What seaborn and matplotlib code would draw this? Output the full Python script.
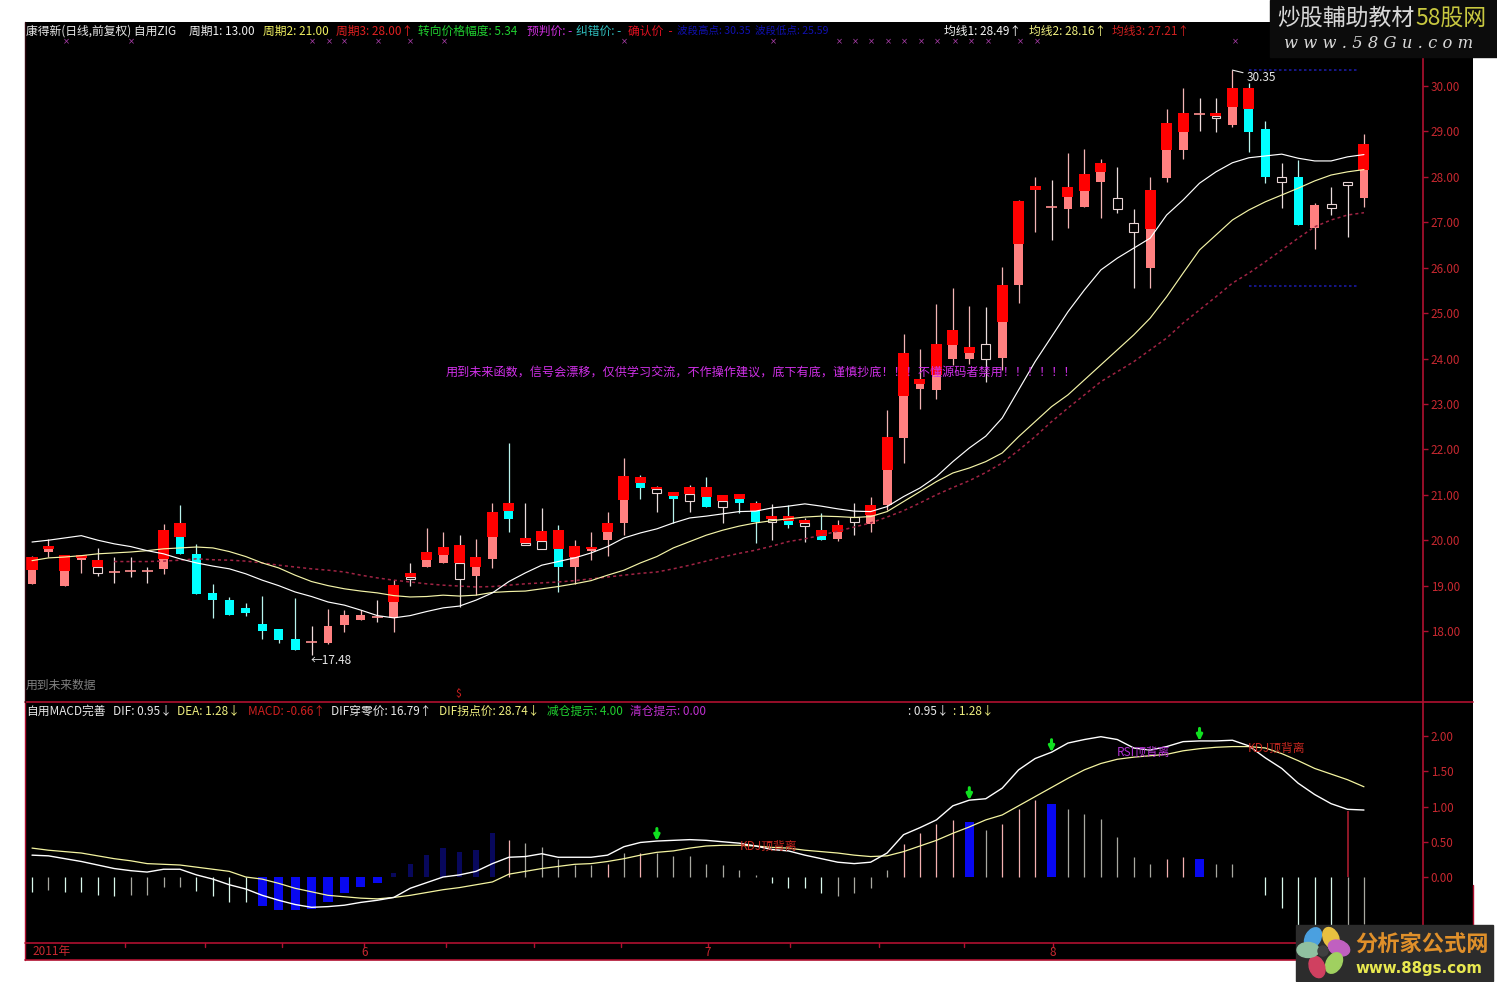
import numpy as np
import pandas as pd
import seaborn as sns
import matplotlib
matplotlib.use("Agg")
import matplotlib.pyplot as plt
from matplotlib.patches import Ellipse, Rectangle, Circle
from matplotlib.lines import Line2D

# ---------- data ----------
body_top = [19.64,19.87,19.67,19.67,19.56,19.30,19.32,19.33,20.22,20.38,
            19.70,18.83,18.68,18.51,18.15,18.04,17.82,17.76,18.11,18.35,
            18.35,18.31,19.01,19.27,19.74,19.85,19.89,19.63,20.62,20.81,
            20.04,20.20,20.22,19.87,19.85,20.38,21.42,21.40,21.18,21.06,
            21.18,21.18,21.00,21.02,20.82,20.53,20.53,20.44,20.22,20.33,
            20.52,20.77,22.28,24.13,23.55,24.32,24.63,24.26,24.32,25.62,
            27.47,27.80,27.34,27.78,28.06,28.31,27.53,26.99,27.71,29.19,
            29.41,29.39,29.40,29.95,29.95,29.05,28.00,28.00,27.38,27.40,
            27.89,28.72]
body_mid = [19.34,19.81,19.33,19.61,19.40,19.30,19.32,19.33,19.59,20.07,
            19.70,18.83,18.68,18.51,18.15,18.04,17.82,17.76,18.11,18.35,
            18.35,18.31,18.65,19.19,19.56,19.67,19.50,19.41,20.07,20.64,
            19.94,19.98,19.81,19.63,19.81,20.18,20.88,21.27,21.13,20.97,
            21.02,20.96,20.87,20.91,20.64,20.47,20.43,20.38,20.10,20.17,
            20.52,20.55,21.55,23.18,23.44,23.64,24.30,24.13,24.32,24.81,
            26.52,27.72,27.34,27.56,27.69,28.11,27.53,26.99,26.85,28.58,
            28.99,29.39,29.34,29.54,29.49,29.05,28.00,28.00,27.38,27.40,
            27.89,28.15]
body_bot = [19.04,19.75,19.00,19.56,19.27,19.30,19.32,19.33,19.37,19.70,
            18.82,18.68,18.35,18.40,18.00,17.80,17.58,17.76,17.74,18.13,
            18.24,18.31,18.29,19.15,19.41,19.50,19.15,19.21,19.59,20.46,
            19.89,19.81,19.41,19.41,19.76,20.00,20.38,21.16,21.05,20.91,
            20.87,20.73,20.73,20.82,20.41,20.41,20.33,20.32,20.00,20.03,
            20.39,20.36,20.77,22.24,23.33,23.31,23.99,23.98,23.99,24.02,
            25.62,27.72,27.34,27.29,27.34,27.89,27.29,26.79,26.00,27.98,
            28.59,29.39,29.29,29.14,28.99,28.00,27.89,26.94,26.88,27.32,
            27.83,27.54]
high = [19.65,20.03,19.67,19.67,19.83,19.63,19.63,19.40,20.36,20.77,
        19.92,19.04,18.75,18.62,18.77,18.04,18.73,18.11,18.48,18.46,
        18.46,18.68,19.12,19.50,20.27,20.18,20.11,20.03,20.82,22.14,
        20.82,20.71,20.33,20.00,20.18,20.62,21.81,21.44,21.19,21.06,
        21.21,21.39,21.00,21.02,20.86,20.80,20.77,20.49,20.60,20.44,
        20.82,20.95,22.87,24.54,24.21,25.20,25.55,25.16,25.13,26.01,
        27.49,28.00,27.93,28.53,28.61,28.39,28.22,27.29,28.00,29.49,
        29.96,29.74,29.73,30.35,30.07,29.24,28.31,28.37,27.42,27.78,
        27.89,28.94]
low = [19.04,19.63,19.00,19.28,19.21,19.06,19.19,19.06,19.26,19.70,
       18.82,18.29,18.35,18.33,17.82,17.74,17.58,17.48,17.71,17.98,
       18.24,18.20,17.98,18.99,19.41,19.50,18.53,18.79,19.39,20.18,
       19.89,19.81,18.86,19.04,19.56,19.65,20.11,20.91,20.62,20.38,
       20.62,20.73,20.38,20.60,19.94,20.00,20.27,19.96,20.00,19.98,
       20.11,20.18,20.66,21.70,22.89,23.11,23.86,23.88,23.48,23.75,
       25.22,26.79,26.61,26.87,27.34,27.09,27.20,25.56,25.56,27.89,
       28.39,29.02,28.99,29.10,28.55,27.87,27.31,26.94,26.41,27.16,
       26.68,27.34]
# lower part of each candle: p pink, c cyan, h hollow, d doji
candle_kind = list("ppp" "ph" "ddd" "p" "c"
                   "ccccccc" "d" "pp"
                   "p" "d" "p" "h" "pp" "h" "ppc"
                   "hh" "c" "ppp" "p" "c" "h" "c"
                   "h" "c" "h" "c" "c" "h" "c" "h" "c" "p"
                   "h" "ppppppp" "h" "p"
                   "p" "p" "d" "ppp" "hh" "pp"
                   "p" "d" "h" "p" "cc" "h" "c" "p" "h"
                   "h" "p")
ma1 = [19.96,20.00,20.05,20.10,20.00,19.92,19.86,19.77,19.70,19.59,
       19.50,19.43,19.37,19.26,19.12,19.00,18.86,18.76,18.64,18.57,
       18.46,18.34,18.29,18.34,18.43,18.51,18.55,18.68,18.84,
       19.09,19.28,19.45,19.53,19.61,19.72,19.86,20.05,20.16,20.25,20.38,
       20.49,20.53,20.58,20.63,20.64,20.71,20.75,20.80,20.75,20.69,20.64,20.63,20.74,
       20.96,21.15,21.40,21.73,22.03,22.29,22.69,23.31,23.93,24.48,25.03,25.51,25.95,
       26.21,26.43,26.65,27.16,27.49,27.86,28.11,28.31,28.42,28.46,28.50,28.41,28.35,
       28.35,28.44,28.49]
ma2 = [19.55,19.61,19.63,19.66,19.70,19.72,19.74,19.77,19.81,19.83,
       19.85,19.83,19.75,19.64,19.50,19.39,19.23,19.09,19.00,18.93,
       18.88,18.84,18.78,18.75,18.76,18.79,18.77,18.79,18.85,
       18.87,18.88,18.93,18.98,19.04,19.11,19.23,19.34,19.50,19.64,19.83,
       19.97,20.11,20.22,20.31,20.38,20.43,20.47,20.51,20.53,20.52,20.50,20.52,20.63,
       20.85,21.07,21.29,21.48,21.59,21.73,21.92,22.28,22.61,22.94,23.20,23.53,23.86,
       24.19,24.52,24.89,25.36,25.88,26.39,26.72,27.05,27.27,27.45,27.60,27.75,27.91,
       28.04,28.11,28.16]
ma3 = [np.nan]*5 + [19.53,19.53,19.53,19.54,19.56,19.59,19.57,19.56,19.54,19.50,
       19.45,19.41,19.37,19.34,19.30,19.23,19.17,19.12,19.08,19.04,19.01,18.99,18.97,18.98,19.01,
       19.04,19.06,19.08,19.11,19.15,19.19,19.23,19.27,19.30,19.37,19.45,19.54,19.63,19.71,19.78,
       19.87,19.97,20.03,20.11,20.20,20.29,20.38,20.51,20.65,20.82,21.00,21.16,21.31,21.49,21.70,
       21.98,22.28,22.61,22.91,23.20,23.49,23.71,23.93,24.19,24.45,24.78,25.07,25.36,25.66,25.88,
       26.13,26.39,26.65,26.90,27.05,27.16,27.21]
macd = [-.21,-.18,-.21,-.21,-.25,-.27,-.25,-.25,-.14,-.14,
        -.20,-.27,-.35,-.36,-.41,-.47,-.47,-.45,-.35,-.23,
        -.14,-.09,.05,.19,.31,.41,.36,.38,.62,.52,
        .48,.43,.26,.17,.17,.19,.34,.34,.34,.30,
        .30,.19,.17,.10,.03,-.09,-.16,-.16,-.23,-.27,
        -.23,-.16,.10,.47,.62,.75,.81,.78,.67,.75,
        .97,1.09,1.03,.97,.90,.82,.57,.29,.18,.26,
        .29,.26,.18,.18,0,-.26,-.44,-.68,-.68,-.68,
        -.70,-.66]
dif = [.31,.30,.26,.22,.17,.12,.09,.07,.11,.11,
       .03,-.03,-.11,-.17,-.26,-.33,-.39,-.43,-.42,-.40,
       -.36,-.33,-.29,-.16,-.08,0,.03,.08,.19,.28,
       .29,.33,.28,.28,.28,.31,.43,.49,.51,.52,
       .53,.52,.50,.48,.44,.39,.37,.31,.26,.21,
       .19,.21,.34,.60,.70,.81,1.01,1.09,1.11,1.26,
       1.52,1.68,1.77,1.90,1.95,1.99,1.95,1.83,1.80,1.85,
       1.92,1.93,1.93,1.94,1.86,1.69,1.54,1.33,1.17,1.04,
       .96,.95]
dea = [.41,.38,.36,.34,.30,.26,.23,.19,.18,.17,
       .14,.11,.08,0,-.03,-.09,-.16,-.21,-.26,-.28,
       -.30,-.31,-.29,-.26,-.22,-.18,-.15,-.11,-.07,.04,
       .08,.12,.15,.18,.19,.22,.26,.31,.35,.37,
       .41,.44,.45,.45,.44,.42,.41,.38,.36,.34,
       .31,.29,.30,.36,.44,.52,.62,.71,.81,.88,
       1.01,1.14,1.27,1.40,1.52,1.61,1.67,1.70,1.72,1.74,
       1.79,1.82,1.84,1.85,1.85,1.83,1.75,1.65,1.54,1.46,
       1.38,1.28]
blue_bars = [14,15,16,17,18,19,20,21,57,62,71]
navy_bars = [22,23,24,25,26,27,28]
pink_bars = [29,35,37,53,54,55,56,59,60,61,69,70]
green_bars = [0,2,3,4,5,10,11,12,13,45,46,47,48,75,76,77,78,79]
signal_bars = [38,57,62,71]
extra_red_bar = 80
extra_red_value = 0.93
price_ticks = [18,19,20,21,22,23,24,25,26,27,28,29,30]
macd_ticks = [0,0.5,1,1.5,2]
month_bars = [20.2,41.1,62.1]
month_labels = ["6","7","8"]
minor_bars = [5.66,10.5,15.2,25.2,30.5,35.8,46.1,51.5,56.7]
level_high = 30.35
level_low = 25.59

assert all(len(a) == 82 for a in [body_top,body_mid,body_bot,high,low,candle_kind,ma1,ma2,ma3,macd,dif,dea])

df = pd.DataFrame(dict(bar=np.arange(82), ma1=ma1, ma2=ma2, ma3=ma3, dif=dif, dea=dea, macd=macd))

# ---------- style ----------
sns.set_theme(style="dark", rc={"axes.facecolor": "black", "figure.facecolor": "white",
                                "axes.grid": False})
plt.rcParams["font.family"] = ["Noto Sans CJK SC", "DejaVu Sans"]
plt.rcParams["axes.unicode_minus"] = False
W, H = 1497, 982
fig = plt.figure(figsize=(W/100, H/100), dpi=100)
def axes_px(x0, y0, x1, y1, **kw):
    return fig.add_axes([x0/W, 1-y1/H, (x1-x0)/W, (y1-y0)/H], **kw)

RED = "#b01030"
TXT_RED = "#c82830"
bg = axes_px(25, 22, 1473, 960, facecolor="black")
bg.set_xticks([]); bg.set_yticks([])
for s in bg.spines.values():
    s.set_visible(False)

ax = axes_px(25, 22, 1423, 702, facecolor="black")
ax2 = axes_px(25, 703, 1423, 943, facecolor="black")
XLIM = ((25-32)/16.444, (1423-32)/16.444)
ax.set_xlim(*XLIM); ax2.set_xlim(*XLIM)
ax.set_ylim(30-(702-86)/45.42, 30+(86-22)/45.42)
ax2.set_ylim((877-943)/70.5, (877-703)/70.5)

# ---------- candles ----------
wick_col = {"p": "#f2b4b4", "c": "#b8f4ee", "h": "#e8dcdc", "d": "#f0dcdc"}
for i in range(82):
    k = candle_kind[i]
    ax.vlines(i, low[i], high[i], color=wick_col[k], lw=0.9, zorder=2)
    t, m, b = body_top[i], body_mid[i], body_bot[i]
    if k == "d":
        ax.hlines(t, i-0.33, i+0.33, color="#ff9090", lw=1.2, zorder=3)
        continue
    if k == "p" and m > b:
        ax.bar(i, m-b, bottom=b, width=0.54, color="#ff8080", zorder=3, lw=0)
    elif k == "c" and m > b:
        ax.bar(i, m-b, bottom=b, width=0.54, color="#00ffff", zorder=3, lw=0)
    elif k == "h" and m > b:
        ax.bar(i, m-b, bottom=b, width=0.54, facecolor="black", edgecolor="#e8d4d4", zorder=3, lw=0.8)
    if t > m:
        ax.bar(i, t-m, bottom=m, width=0.67, color="#ff0000", zorder=4, lw=0)

sns.lineplot(data=df, x="bar", y="ma3", ax=ax, color="#a02444", lw=1.1, ls=(0, (2, 2)), zorder=5, errorbar=None)
sns.lineplot(data=df, x="bar", y="ma2", ax=ax, color="#f4f4a8", lw=0.85, zorder=6, errorbar=None)
sns.lineplot(data=df, x="bar", y="ma1", ax=ax, color="#ffffff", lw=0.85, zorder=7, errorbar=None)

ax.hlines([level_high, level_low], 74, 80.7, color="#1a1aa0", lw=1.2, ls=(0, (1.5, 1.5)), zorder=4)
ax.annotate(f"←{min(low):.2f}", (17, min(low)), xytext=(-1, -4), textcoords="offset points",
            color="#e8e8e8", fontsize=8.5, va="center", ha="left", zorder=8)
ax.annotate(f"{max(high):.2f}", (73, max(high)), xytext=(10, -5), textcoords="offset points",
            color="#e8e8e8", fontsize=8.5, va="center", ha="left", zorder=8,
            arrowprops=dict(arrowstyle="-", color="#e8e8e8", lw=0.8, shrinkA=0, shrinkB=0))

# ---------- MACD panel ----------
for i, v in enumerate(macd):
    if i in blue_bars:
        ax2.bar(i, v, width=0.55, color="#0808f0", lw=0, zorder=2)
    elif i in navy_bars:
        ax2.bar(i, v, width=0.32, color="#08085c", lw=0, zorder=2)
    else:
        c = "#f4b0b0" if i in pink_bars else ("#d8f8ec" if i in green_bars else "#a8a8a0")
        ax2.vlines(i, 0, v, color=c, lw=0.9, zorder=2)
ax2.vlines(extra_red_bar, 0, extra_red_value, color="#901828", lw=1.4, zorder=1)
sns.lineplot(data=df, x="bar", y="dea", ax=ax2, color="#f4f4a0", lw=0.9, zorder=5, errorbar=None)
sns.lineplot(data=df, x="bar", y="dif", ax=ax2, color="#ffffff", lw=1.0, zorder=6, errorbar=None)
for i in signal_bars:
    ax2.annotate("", (i, dif[i]), xytext=(0, 9), textcoords="offset points", zorder=8,
                 arrowprops=dict(arrowstyle="-|>", color="#10e020", lw=2.2, mutation_scale=8, shrinkA=0, shrinkB=0))

for a, ticks, labels in [(ax, price_ticks, [f"{t:.2f}" for t in price_ticks]),
                         (ax2, macd_ticks, [f"{t:.2f}" for t in macd_ticks])]:
    a.set_xlabel(""); a.set_ylabel("")
    a.set_xticks([])
    a.yaxis.tick_right()
    a.set_yticks(ticks); a.set_yticklabels(labels)
    a.tick_params(axis="y", length=3.6, width=1, color=RED, labelcolor=TXT_RED, labelsize=8.4, pad=2, right=True)
    for s in ["top", "left", "bottom"]:
        a.spines[s].set_visible(False)
    a.spines["right"].set_color(RED); a.spines["right"].set_linewidth(1.2)

# ---------- overlay in image pixels ----------
ov = axes_px(0, 0, W, H, facecolor="none", zorder=20)
ov.set_xlim(0, W); ov.set_ylim(H, 0); ov.axis("off")
for y, x0 in [(702, 25), (943, 25), (960, 25)]:
    ov.add_line(Line2D([x0, 1473], [y, y], color=RED, lw=1.2))
ov.add_line(Line2D([25, 25], [702, 960], color=RED, lw=1))
ov.add_line(Line2D([1473, 1473], [885, 960], color=RED, lw=1))
ov.add_line(Line2D([25, 25], [22, 702], color="#300810", lw=1))
FS = 8.5
def put(x, y, s, c, fs=FS, **kw):
    ov.text(x, y, s, color=c, fontsize=fs, va="center", ha="left", **kw)

for x, s, c in [(26, "康得新(日线,前复权) 自用ZIG", "#e8e8e8"), (189, "周期1: 13.00", "#f0f0f0"),
                (263, "周期2: 21.00", "#f0f060"), (336, "周期3: 28.00↑", "#e02020"),
                (418, "转向价格幅度: 5.34", "#20d030"), (527, "预判价: -", "#d030e0"),
                (576, "纠错价: -", "#30c0c0"), (628, "确认价  -", "#e01020"),
                (944, "均线1: 28.49↑", "#f4f4f4"), (1029, "均线2: 28.16↑", "#f0f080"),
                (1112, "均线3: 27.21↑", "#d02020")]:
    put(x, 31, s, c)
put(677, 31, "波段高点: 30.35", "#1010b0", fs=7.6)
put(755, 31, "波段低点: 25.59", "#1010b0", fs=7.6)
for x, s, c in [(26, "自用MACD完善", "#e8e8e8"), (113, "DIF: 0.95↓", "#e8e8e8"),
                (177, "DEA: 1.28↓", "#f0f080"), (248, "MACD: -0.66↑", "#d02020"),
                (331, "DIF穿零价: 16.79↑", "#e8e8e8"), (439, "DIF拐点价: 28.74↓", "#f0f080"),
                (547, "减仓提示: 4.00", "#20d030"), (630, "清仓提示: 0.00", "#c030d0"),
                (908, ": 0.95↓", "#e8e8e8"), (953, ": 1.28↓", "#f0f080")]:
    put(x, 711, s, c)

for x in [66,131.5,312,329,344.5,378,410,444,624,773,839.5,855,871,888,904.5,921,937.5,955,971.5,988,1020,1037,1235.6]:
    ov.text(x, 42, "×", color="#b040b0", fontsize=6, ha="center", va="center", family="DejaVu Sans")

put(446, 373, "用到未来函数，信号会漂移，仅供学习交流，不作操作建议，底下有底，谨慎抄底！！！不懂源码者禁用！！！！！！", "#d030e8", fs=8.7)
put(26, 685, "用到未来数据", "#808080")
put(455, 694, "$", "#d02020", fs=7.5)
put(740, 846, "KDJ顶背离", "#c82820")
put(1117, 752, "RSI顶背离", "#b030d0")
put(1248, 748, "KDJ顶背离", "#c82820")

put(32, 952, "2011年", TXT_RED)
for b, s in zip(month_bars, month_labels):
    ov.text(32+16.444*b, 952, s, color=TXT_RED, fontsize=FS, ha="center", va="center")
for b in minor_bars + month_bars:
    xp = 32+16.444*b
    ov.add_line(Line2D([xp, xp], [943, 947], color=RED, lw=1))

# top-right watermark
ov.add_patch(Rectangle((1270, 0), 227, 57, color="#0c0c0c", zorder=5))
ov.text(1277, 18, "炒股輔助教材", color="#d8d8d8", fontsize=16.5, va="center", ha="left", zorder=6)
ov.text(1415, 18, "58股网", color="#c8c840", fontsize=16.5, va="center", ha="left", zorder=6)
ov.text(1284, 43, "w w w . 5 8 G u . c o m", color="#d8d8d8", fontsize=11.8, va="center", ha="left",
        style="italic", family="DejaVu Serif", zorder=6)

# bottom-right logo
ov.add_patch(Rectangle((1296, 925), 197, 56, color="#2c2c2c", zorder=5))
for (x, y, c, ang) in [(1313, 938, "#4aa0e0", 30), (1331, 938, "#e8c040", -25), (1339, 948, "#c060c0", -70),
                       (1334, 963, "#a0d060", 30), (1317, 967, "#d04060", -20), (1308, 950, "#90c0a0", 90)]:
    ov.add_patch(Ellipse((x, y), 15, 22, angle=ang, color=c, zorder=6))
ov.add_patch(Circle((1323, 951), 5, color="#404040", zorder=7))
ov.text(1355, 944, "分析家公式网", color="#e0902a", fontsize=16, fontweight="bold", va="center", ha="left", zorder=6)
ov.text(1355, 968, "www.88gs.com", color="#e8e850", fontsize=10.8, fontweight="bold", va="center", ha="left",
        family="DejaVu Sans", zorder=6)

fig.savefig("out.png", dpi=100, facecolor="white")
